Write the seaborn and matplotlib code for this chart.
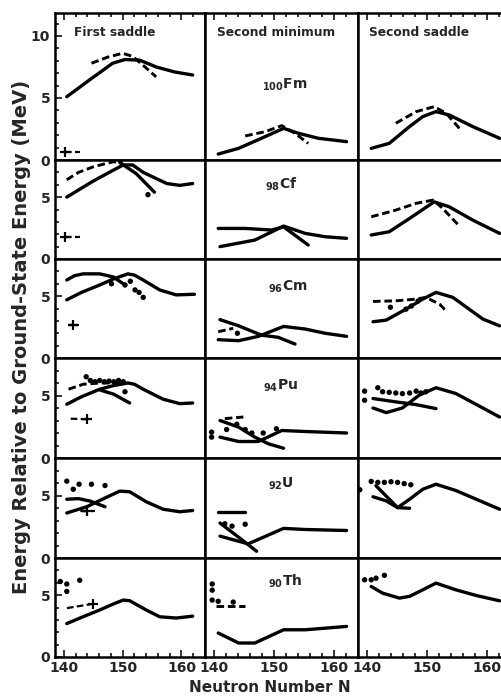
import pandas as pd
import matplotlib
matplotlib.use("Agg")
import matplotlib.pyplot as plt
from matplotlib.ticker import MultipleLocator
import seaborn as sns

# ---- first saddle (column 1) ----
fm1_solid = [(140.5, 5.1), (144.5, 6.5), (148.3, 7.8), (150.4, 8.1), (152.9, 8.05), (155.7, 7.5), (158.8, 7.1), (161.9, 6.85)]
fm1_dash = [(144.7, 7.8), (147.5, 8.3), (150.0, 8.6), (151.7, 8.35), (153.8, 7.5), (155.7, 6.7)]
fm1_cross = [(140.2, 0.65), (142.7, 0.65)]

cf1_solid = [(140.5, 5.0), (145.0, 6.3), (148.5, 7.2), (150.1, 7.6), (151.7, 7.6), (153.5, 7.0), (155.7, 6.5), (157.5, 6.1), (159.7, 5.95), (161.9, 6.1)]
cf1_dash = [(140.5, 6.4), (142.5, 7.0), (145.0, 7.45), (148.3, 7.85), (150.0, 7.8)]
cf1_fall = [(149.5, 7.8), (152.3, 6.9), (155.4, 5.4)]
cf1_dots = [(154.3, 5.2)]
cf1_cross = [(140.2, 1.8), (142.7, 1.8)]

cm1_solid = [(140.5, 4.7), (143.0, 5.3), (146.1, 5.9), (148.5, 6.4), (150.9, 6.8), (152.0, 6.7), (153.5, 6.3), (156.3, 5.5), (159.1, 5.1), (162.2, 5.15)]
cm1_upper = [(140.5, 6.3), (141.8, 6.65), (143.3, 6.8), (146.1, 6.8), (148.4, 6.55), (150.1, 6.0)]
cm1_dots = [(148.1, 6.0), (150.4, 5.9), (151.3, 6.2), (152.1, 5.5), (152.8, 5.3), (153.5, 4.9)]
cm1_cross = [(141.6, 2.66), (140.8, 2.66), (142.5, 2.66)]

pu1_solid = [(140.5, 4.3), (143.0, 4.9), (146.1, 5.5), (148.5, 5.8), (150.9, 6.0), (152.0, 5.9), (153.5, 5.5), (156.9, 4.7), (159.7, 4.35), (161.9, 4.4)]
pu1_fall = [(146.1, 5.45), (148.5, 5.1), (151.2, 4.4)]
pu1_dash = [(140.8, 5.5), (143.3, 5.9), (146.0, 6.0), (148.4, 6.0), (150.4, 6.1)]
pu1_dots = [(143.8, 6.5), (144.5, 6.2), (145.3, 6.1), (146.1, 6.2), (146.9, 6.1), (147.7, 6.15), (148.5, 6.1), (149.3, 6.2), (150.1, 6.1), (150.4, 5.3)]
pu1_cross = [(144.0, 3.1), (140.7, 3.15)]

u1_solid = [(140.5, 3.6), (143.9, 4.1), (147.0, 4.8), (149.5, 5.35), (151.2, 5.3), (154.0, 4.5), (156.9, 3.9), (159.7, 3.7), (161.9, 3.8)]
u1_other = [(140.5, 4.7), (142.5, 4.75), (144.5, 4.55), (147.0, 4.1)]
u1_dots = [(140.5, 6.15), (141.6, 5.5), (142.6, 5.9), (144.7, 5.9), (147.0, 5.8)]
u1_cross = [(143.9, 3.8), (142.5, 3.8), (145.3, 3.8)]

th1_solid = [(140.5, 2.7), (143.0, 3.2), (146.1, 3.8), (148.5, 4.3), (150.1, 4.6), (151.2, 4.55), (152.5, 4.2), (154.0, 3.8), (156.3, 3.25), (159.1, 3.15), (161.9, 3.3)]
th1_cross = [(145.0, 4.3), (140.5, 3.95)]
th1_dots = [(139.4, 6.1), (140.5, 5.9), (140.5, 5.3), (142.7, 6.2)]

# ---- second minimum (column 2) ----
fm2_solid = [(140.7, 0.48), (144.1, 0.94), (147.9, 1.75), (151.6, 2.55), (154.1, 2.15), (157.4, 1.75), (162.1, 1.48)]
fm2_dash = [(145.2, 1.94), (148.5, 2.28), (151.3, 2.77), (153.5, 2.15), (155.7, 1.34)]

cf2_solid = [(141.0, 1.0), (146.8, 1.53), (151.6, 2.66), (155.2, 2.07), (158.5, 1.8), (162.1, 1.67)]
cf2_flat = [(140.7, 2.47), (145.2, 2.47), (149.6, 2.34), (151.6, 2.6), (155.7, 1.13)]

cm2_solid = [(140.7, 1.48), (144.1, 1.4), (147.4, 1.75), (151.6, 2.55), (155.2, 2.34), (158.5, 2.0), (162.1, 1.75)]
cm2_fall = [(141.0, 3.1), (144.1, 2.6), (147.9, 1.85), (150.7, 1.67), (153.5, 1.13)]
cm2_dash = [(140.7, 2.12), (143.2, 2.4)]
cm2_dots = [(143.9, 2.0)]

pu2_solid = [(141.0, 1.67), (144.1, 1.32), (147.4, 1.32), (151.3, 2.2), (155.2, 2.12), (162.1, 2.0)]
pu2_fall = [(141.0, 3.0), (144.1, 2.47), (146.8, 1.67), (149.1, 1.13), (151.6, 0.78)]
pu2_dash = [(141.8, 3.15), (144.9, 3.28)]
pu2_dots = [(139.6, 2.07), (139.6, 1.67), (142.1, 2.28), (143.8, 2.7), (145.2, 2.28), (146.3, 2.0), (148.2, 2.0), (150.4, 2.34)]

u2_solid = [(141.0, 1.75), (145.7, 1.13), (151.6, 2.37), (155.2, 2.28), (162.1, 2.2)]
u2_fall = [(141.0, 2.8), (144.0, 1.7), (147.1, 0.54)]
u2_flat = [(140.7, 3.7), (145.2, 3.7)]
u2_dots = [(141.8, 2.74), (143.0, 2.55), (145.2, 2.7)]

th2_solid = [(140.7, 1.94), (144.1, 1.13), (146.8, 1.13), (151.6, 2.2), (155.2, 2.2), (162.1, 2.47)]
th2_dash = [(140.4, 4.1), (145.2, 4.1)]
th2_dots = [(139.7, 5.9), (139.7, 5.4), (139.7, 4.6), (140.7, 4.5), (143.2, 4.44)]

# ---- second saddle (column 3) ----
fm3_solid = [(140.7, 0.94), (143.7, 1.34), (147.1, 2.7), (149.3, 3.5), (151.5, 3.9), (153.7, 3.63), (157.6, 2.7), (162.1, 1.75)]
fm3_dash = [(144.8, 2.96), (148.2, 3.9), (151.2, 4.3), (153.2, 3.76), (155.4, 2.55)]

cf3_solid = [(140.7, 1.94), (143.7, 2.2), (147.1, 3.28), (151.2, 4.62), (153.7, 4.22), (157.6, 3.15), (162.1, 2.07)]
cf3_dash = [(140.7, 3.41), (144.8, 3.95), (148.2, 4.5), (151.0, 4.76), (152.6, 4.1), (155.4, 2.66)]

cm3_solid = [(141.0, 2.93), (143.2, 3.06), (146.5, 3.95), (149.3, 4.76), (151.5, 5.3), (154.3, 4.9), (159.3, 3.15), (162.1, 2.6)]
cm3_dash = [(141.0, 4.57), (144.8, 4.62), (148.2, 4.76), (149.8, 4.9), (152.1, 4.35), (152.9, 3.95), (153.4, 3.8)]
cm3_dots = [(143.9, 4.1), (146.5, 3.95), (147.4, 4.2), (148.5, 4.6)]

pu3_solid = [(141.0, 4.0), (143.2, 3.63), (145.9, 4.0), (148.7, 5.03), (151.5, 5.62), (154.8, 5.16), (162.1, 3.28)]
pu3_fall = [(141.0, 4.76), (144.8, 4.49), (148.2, 4.27), (151.5, 3.95)]
pu3_dots = [(139.6, 5.35), (139.6, 4.62), (141.8, 5.62), (142.6, 5.3), (143.7, 5.25), (144.8, 5.2), (145.9, 5.15), (147.1, 5.2), (148.2, 5.35), (149.0, 5.2), (149.8, 5.3)]

u3_solid = [(141.0, 4.9), (143.2, 4.57), (145.1, 4.03), (147.1, 4.7), (149.3, 5.5), (151.5, 5.9), (154.8, 5.4), (162.1, 3.9)]
u3_fall = [(141.5, 5.78), (145.1, 4.03), (147.1, 3.98)]
u3_dots = [(138.8, 5.46), (140.7, 6.13), (141.8, 6.05), (142.9, 6.05), (144.0, 6.1), (145.1, 6.05), (146.2, 5.95), (147.3, 5.86)]

th3_solid = [(140.7, 5.7), (142.6, 5.16), (145.4, 4.76), (147.1, 4.9), (149.3, 5.43), (151.5, 5.97), (154.8, 5.43), (158.2, 4.97), (162.1, 4.54)]
th3_dots = [(139.6, 6.24), (140.7, 6.24), (141.5, 6.37), (142.9, 6.6)]

nuclides = [r"$_{100}$Fm", r"$_{98}$Cf", r"$_{96}$Cm", r"$_{94}$Pu", r"$_{92}$U", r"$_{90}$Th"]
col_titles = ["First saddle", "Second minimum", "Second saddle"]
x_ticks = [140, 150, 160]

panels = [
    [[("solid", fm1_solid), ("dash", fm1_dash), ("cross", fm1_cross)],
     [("solid", fm2_solid), ("dash", fm2_dash)],
     [("solid", fm3_solid), ("dash", fm3_dash)]],
    [[("solid", cf1_solid), ("dash", cf1_dash), ("solid", cf1_fall), ("dots", cf1_dots), ("cross", cf1_cross)],
     [("solid", cf2_solid), ("solid", cf2_flat)],
     [("solid", cf3_solid), ("dash", cf3_dash)]],
    [[("solid", cm1_solid), ("solid", cm1_upper), ("dots", cm1_dots), ("cross", cm1_cross)],
     [("solid", cm2_solid), ("solid", cm2_fall), ("dash", cm2_dash), ("dots", cm2_dots)],
     [("solid", cm3_solid), ("dash", cm3_dash), ("dots", cm3_dots)]],
    [[("solid", pu1_solid), ("solid", pu1_fall), ("dash", pu1_dash), ("dots", pu1_dots), ("cross", pu1_cross)],
     [("solid", pu2_solid), ("solid", pu2_fall), ("dash", pu2_dash), ("dots", pu2_dots)],
     [("solid", pu3_solid), ("solid", pu3_fall), ("dots", pu3_dots)]],
    [[("solid", u1_solid), ("solid", u1_other), ("dots", u1_dots), ("cross", u1_cross)],
     [("solid", u2_solid), ("solid", u2_fall), ("solid", u2_flat), ("dots", u2_dots)],
     [("solid", u3_solid), ("solid", u3_fall), ("dots", u3_dots)]],
    [[("solid", th1_solid), ("cross", th1_cross), ("dots", th1_dots)],
     [("solid", th2_solid), ("dash", th2_dash), ("dots", th2_dots)],
     [("solid", th3_solid), ("dots", th3_dots)]],
]

W, H = 501, 698
col_px = [(55, 205), (205, 358), (358, 511)]
row_px = [(13, 160), (160, 259), (259, 358), (358, 458), (458, 558), (558, 657)]
nuc_pos = [(0.37, 0.51), (0.39, 0.75), (0.41, 0.72), (0.38, 0.72), (0.41, 0.74), (0.41, 0.76)]

sns.set_style("ticks")
plt.rcParams["font.family"] = ["DejaVu Sans"]
plt.rcParams["font.weight"] = "bold"
plt.rcParams["mathtext.fontset"] = "dejavusans"
plt.rcParams["mathtext.default"] = "bf"


def draw(ax, kind, pts):
    df = pd.DataFrame(pts, columns=["N", "E"])
    if kind == "solid":
        sns.lineplot(data=df, x="N", y="E", ax=ax, estimator=None, sort=False,
                     color="k", linewidth=2.4, solid_capstyle="round", solid_joinstyle="round")
    elif kind == "dash":
        sns.lineplot(data=df, x="N", y="E", ax=ax, estimator=None, sort=False,
                     color="k", linewidth=2.1, linestyle=(0, (2.6, 1.3)))
    elif kind == "dots":
        sns.scatterplot(data=df, x="N", y="E", ax=ax, color="k", s=15, edgecolor="none")
    elif kind == "cross":
        sns.lineplot(data=df, x="N", y="E", ax=ax, estimator=None, sort=False,
                     color="k", linewidth=1.6, linestyle=(0, (3, 1.5)))
        sns.scatterplot(data=df.iloc[:1], x="N", y="E", ax=ax, color="k", marker="+",
                        s=55, linewidth=1.6)


fig = plt.figure(figsize=(W / 100, H / 100), dpi=100)

for r, (top, bot) in enumerate(row_px):
    for c, (left, right) in enumerate(col_px):
        ax = fig.add_axes([left / W, 1 - bot / H, (right - left) / W, (bot - top) / H])
        for kind, pts in panels[r][c]:
            draw(ax, kind, pts)
        ax.set_xlim(138.5, 164.0)
        ax.set_ylim(0, 11.85 if r == 0 else 8.0)
        ax.set_xlabel("")
        ax.set_ylabel("")
        for s in ax.spines.values():
            s.set_linewidth(1.8)
            s.set_color("k")
        ax.set_xticks(x_ticks)
        ax.xaxis.set_minor_locator(MultipleLocator(2))
        ax.yaxis.set_major_locator(MultipleLocator(5))
        ax.yaxis.set_minor_locator(MultipleLocator(1))
        ax.tick_params(axis="x", which="both", direction="in", top=(r == 0), bottom=(r == 5),
                       labelbottom=(r == 5), labelsize=10, pad=3, width=1.3)
        ax.tick_params(axis="x", which="major", length=5)
        ax.tick_params(axis="x", which="minor", length=3)
        ax.tick_params(axis="y", which="both", direction="in", left=(c == 0), right=False,
                       labelleft=(c == 0), labelsize=10, pad=3.5, width=1.3)
        ax.tick_params(axis="y", which="major", length=5)
        ax.tick_params(axis="y", which="minor", length=3)
        if r == 0:
            ax.text([0.13, 0.08, 0.07][c], 0.87, col_titles[c], transform=ax.transAxes,
                    fontsize=8.8, fontweight="bold", va="center", ha="left")
        if c == 1:
            ax.text(nuc_pos[r][0], nuc_pos[r][1], nuclides[r], transform=ax.transAxes,
                    fontsize=10, fontweight="bold", va="center", ha="left")

fig.text(22 / W, 1 - 337 / H, "Energy Relative to Ground-State Energy (MeV)", rotation=90,
         ha="center", va="center", fontsize=14, fontweight="bold")
fig.text(270 / W, 1 - 688 / H, "Neutron Number N", ha="center", va="center",
         fontsize=11, fontweight="bold")

plt.savefig("out.png", dpi=100)
